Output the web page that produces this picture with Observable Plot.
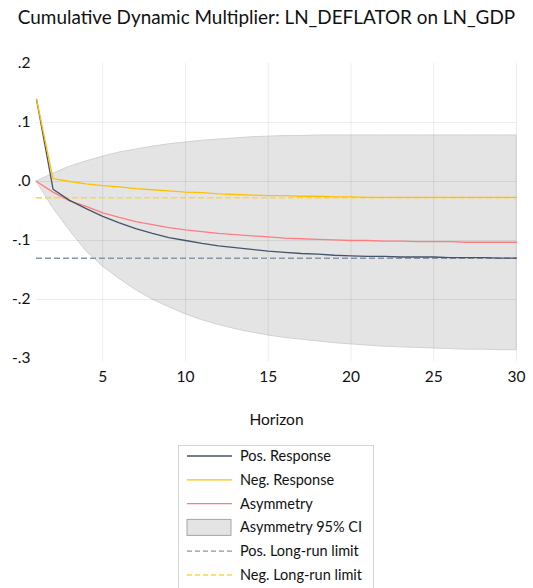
<!DOCTYPE html>
<html>
<head>
<meta charset="utf-8">
<script src="https://cdn.jsdelivr.net/npm/d3@7"></script>
<script src="https://cdn.jsdelivr.net/npm/@observablehq/plot@0.6"></script>
<style>
  html, body { margin: 0; padding: 0; background: #fff; }
  body { width: 533px; height: 588px; position: relative; overflow: hidden; font-family: Lato, "Open Sans", sans-serif; }
  #title { position: absolute; left: 0; top: 5px; width: 533px; text-align: center; font-size: 18.9px; color: #111; white-space: nowrap; }
  #chart { position: absolute; left: 0; top: 40px; }
  #legend { position: absolute; left: 178px; top: 445px; }
</style>
</head>
<body>
<div id="title">Cumulative Dynamic Multiplier: LN_DEFLATOR on LN_GDP</div>
<div id="chart"></div>
<div id="legend"></div>
<script>
// ---- data ----
const horizon = [1,2,3,4,5,6,7,8,9,10,11,12,13,14,15,16,17,18,19,20,21,22,23,24,25,26,27,28,29,30];
const posResponse = [0.139,-0.013,-0.032,-0.046,-0.059,-0.070,-0.080,-0.088,-0.095,-0.100,-0.105,-0.109,-0.112,-0.115,-0.118,-0.120,-0.122,-0.123,-0.125,-0.126,-0.127,-0.127,-0.128,-0.128,-0.128,-0.129,-0.129,-0.129,-0.130,-0.130];
const negResponse = [0.139,0.005,0.000,-0.004,-0.007,-0.009,-0.012,-0.014,-0.016,-0.018,-0.019,-0.021,-0.022,-0.023,-0.024,-0.024,-0.025,-0.025,-0.026,-0.026,-0.027,-0.027,-0.027,-0.027,-0.027,-0.027,-0.027,-0.027,-0.027,-0.027];
const asymmetry = [0.000,-0.018,-0.033,-0.042,-0.053,-0.061,-0.068,-0.073,-0.078,-0.082,-0.085,-0.088,-0.090,-0.092,-0.094,-0.096,-0.097,-0.098,-0.099,-0.100,-0.100,-0.101,-0.101,-0.102,-0.102,-0.102,-0.103,-0.103,-0.103,-0.103];
const ciLower = [0.000,-0.045,-0.083,-0.118,-0.144,-0.165,-0.184,-0.200,-0.213,-0.225,-0.235,-0.243,-0.250,-0.256,-0.261,-0.265,-0.268,-0.271,-0.274,-0.276,-0.278,-0.280,-0.281,-0.282,-0.283,-0.284,-0.285,-0.285,-0.286,-0.286];
const ciUpper = [0.000,0.013,0.025,0.034,0.042,0.049,0.054,0.059,0.063,0.066,0.069,0.071,0.073,0.075,0.076,0.077,0.077,0.078,0.078,0.078,0.078,0.078,0.078,0.078,0.078,0.078,0.078,0.078,0.078,0.078];
const posLongRun = -0.130;
const negLongRun = -0.0275;
const yTicks = [0.2, 0.1, 0.0, -0.1, -0.2, -0.3];
const yGrid = [0.1, 0.0, -0.1, -0.2];
const xTicks = [5, 10, 15, 20, 25, 30];
const legendItems = [
  {label: "Pos. Response", type: "line", color: "#44546a"},
  {label: "Neg. Response", type: "line", color: "#ffc000"},
  {label: "Asymmetry", type: "line", color: "#ff7c80"},
  {label: "Asymmetry 95% CI", type: "box", color: "#e4e4e4"},
  {label: "Pos. Long-run limit", type: "dash", color: "#8a94ac"},
  {label: "Neg. Long-run limit", type: "dash", color: "#ffd34d"}
];

const rows = horizon.map((h, i) => ({h, pos: posResponse[i], neg: negResponse[i], asym: asymmetry[i], lo: ciLower[i], hi: ciUpper[i]}));
const fmt = d => {
  if (Math.abs(d) < 1e-9) return ".0";
  return d.toFixed(1).replace("0.", ".");
};

const plot = Plot.plot({
  width: 533,
  height: 400,
  marginLeft: 36,
  marginRight: 17,
  marginTop: 23,
  marginBottom: 82,
  style: {fontFamily: "Lato, 'Open Sans', sans-serif", fontSize: "15px", color: "#111", background: "transparent"},
  x: {domain: [1, 30]},
  y: {domain: [-0.3, 0.2]},
  marks: [
    Plot.areaY(rows, {x: "h", y1: "lo", y2: "hi", fill: "#e4e4e4", stroke: "#d2d2d2", strokeWidth: 1}),
    Plot.ruleY(yGrid, {stroke: "#000", strokeOpacity: 0.075, strokeWidth: 1}),
    Plot.ruleX(xTicks, {stroke: "#000", strokeOpacity: 0.075, strokeWidth: 1, y1: 0.2, y2: -0.3, insetBottom: -3}),
    Plot.ruleY([posLongRun], {x1: 1, x2: 30, stroke: "#8a94ac", strokeWidth: 1.5, strokeDasharray: "6,3"}),
    Plot.ruleY([negLongRun], {x1: 1, x2: 30, stroke: "#ffd34d", strokeWidth: 1.3, strokeDasharray: "6,3"}),
    Plot.line(rows, {x: "h", y: "asym", stroke: "#ff7c80", strokeWidth: 1.3}),
    Plot.line(rows, {x: "h", y: "pos", stroke: "#44546a", strokeWidth: 1.3}),
    Plot.line(rows, {x: "h", y: "neg", stroke: "#ffc000", strokeWidth: 1.3}),
    Plot.axisY({ticks: yTicks, tickSize: 0, tickPadding: 6, tickFormat: fmt, label: null, fontSize: 15.5}),
    Plot.axisX({ticks: xTicks, tickSize: 0, tickPadding: 12, label: null, fontSize: 15.5}),
    Plot.text(["Horizon"], {frameAnchor: "bottom", dy: 66, fontSize: 15.5, fill: "#111"})
  ]
});
document.getElementById("chart").appendChild(plot);

// ---- legend ----
const lw = 200, lh = 150;
const svg = d3.select("#legend").append("svg").attr("width", lw).attr("height", lh)
  .style("font-family", "Lato, 'Open Sans', sans-serif");
svg.append("rect").attr("x", 0.5).attr("y", 0.5).attr("width", 195).attr("height", lh + 10)
  .attr("fill", "#fff").attr("stroke", "#d4d4d4");
legendItems.forEach((it, i) => {
  const cy = 11 + i * 23.8;
  const g = svg.append("g");
  if (it.type === "line") {
    g.append("line").attr("x1", 9).attr("x2", 54).attr("y1", cy).attr("y2", cy)
      .attr("stroke", it.color).attr("stroke-width", 1.3);
  } else if (it.type === "dash") {
    g.append("line").attr("x1", 9).attr("x2", 54).attr("y1", cy).attr("y2", cy)
      .attr("stroke", it.color).attr("stroke-width", 1.3).attr("stroke-dasharray", "5,3");
  } else {
    g.append("rect").attr("x", 9).attr("y", cy - 8).attr("width", 44).attr("height", 16)
      .attr("fill", it.color).attr("stroke", "#a6a6a6").attr("stroke-width", 1);
  }
  g.append("text").attr("x", 62).attr("y", cy).attr("dy", "0.35em")
    .attr("font-size", 14.5).attr("fill", "#111").text(it.label);
});
</script>
</body>
</html>
